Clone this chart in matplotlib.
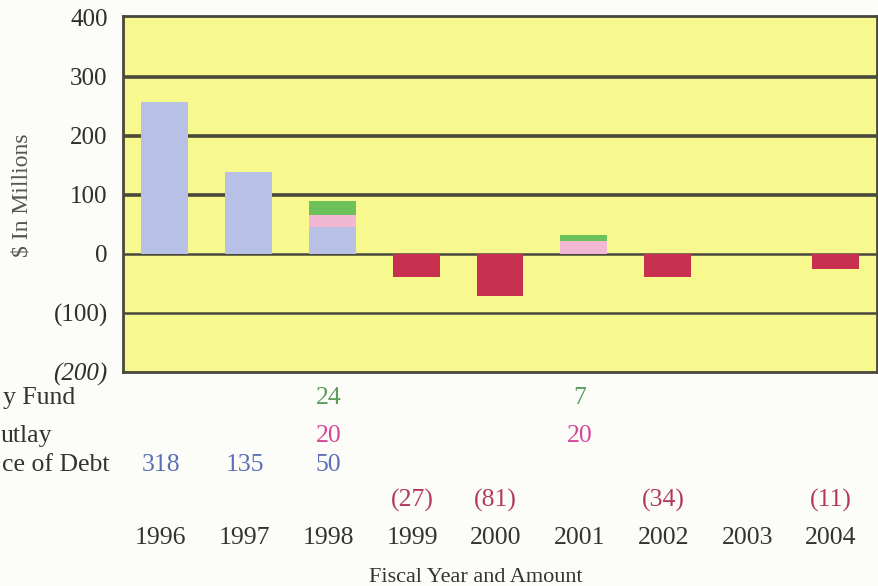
import matplotlib
matplotlib.use("Agg")
import matplotlib.pyplot as plt
import matplotlib.transforms as mtransforms

plt.rcParams['font.family'] = ['Liberation Serif', 'DejaVu Serif']

years = ['1996', '1997', '1998', '1999', '2000', '2001', '2002', '2003', '2004']

# bar heights as drawn in the chart ($ millions)
debt_bar = [258, 138, 46, 0, 0, 0, 0, 0, 0]
outlay_bar = [0, 0, 20, 0, 0, 22, 0, 0, 0]
fund_bar = [0, 0, 23, 0, 0, 10, 0, 0, 0]
deficit_bar = [0, 0, 0, -39, -72, 0, -39, 0, -25]

# amounts printed under the chart
fund_lbl = ['', '', '24', '', '', '7', '', '', '']
outlay_lbl = ['', '', '20', '', '', '20', '', '', '']
debt_lbl = ['318', '135', '50', '', '', '', '', '', '']
deficit_lbl = ['', '', '', '(27)', '(81)', '', '(34)', '', '(11)']

# row names, as much as is visible at the left edge of the page
row_names = ['y Fund', 'utlay', 'ce of Debt']

yticks = [400, 300, 200, 100, 0, -100, -200]
ytick_lbl = ['400', '300', '200', '100', '0', '(100)', '(200)']

c_bg = '#f7f88e'
c_debt = '#b9c0e6'
c_outlay = '#f1b7d3'
c_fund = '#6cc15a'
c_deficit = '#c8304f'
c_grid = '#48483c'

fig = plt.figure(figsize=(8.79, 5.86), dpi=100)
fig.patch.set_facecolor('#fcfcf9')
ax = fig.add_axes([123 / 879, 1 - 372 / 586, 754 / 879, 356 / 586])
ax.set_facecolor(c_bg)

x = list(range(len(years)))
w = 0.56
bot2 = [a + b for a, b in zip(debt_bar, outlay_bar)]
ax.bar(x, debt_bar, w, color=c_debt, zorder=3)
ax.bar(x, outlay_bar, w, bottom=debt_bar, color=c_outlay, zorder=3)
ax.bar(x, fund_bar, w, bottom=bot2, color=c_fund, zorder=3)
ax.bar(x, deficit_bar, w, color=c_deficit, zorder=3)

for v in [300, 200, 100]:
    ax.axhline(v, color=c_grid, lw=2.6, zorder=1)
for v in [0, -100]:
    ax.axhline(v, color=c_grid, lw=1.8, zorder=1)

ax.set_xlim(-0.5, 8.5)
ax.set_ylim(-197, 403)
ax.set_xticks([])
ax.set_yticks(yticks)
ax.set_yticklabels(ytick_lbl, fontsize=18, color='#2e2e2e')
ax.get_yticklabels()[-1].set_style('italic')
ax.tick_params(axis='y', length=0, pad=11)
for s in ax.spines.values():
    s.set_color(c_grid)
    s.set_linewidth(2)

fig.text(22 / 879, 1 - 195 / 586, '$ In Millions', rotation=90,
         ha='center', va='center', fontsize=17, color='#555555')

# amounts table under the plot
trans = mtransforms.blended_transform_factory(ax.transData, fig.transFigure)
rows = [
    (fund_lbl, '#5c9c5c', 398),
    (outlay_lbl, '#d6479a', 436),
    (debt_lbl, '#5b6fb8', 465),
    (deficit_lbl, '#b3395c', 500),
    (years, '#333333', 538),
]
for labels, col, ypx in rows:
    for i, t in enumerate(labels):
        if t:
            ax.text(i - 0.05, 1 - ypx / 586, t, transform=trans, ha='center',
                    va='center', fontsize=18.5, color=col)

for name, xr, ypx in zip(row_names, [75, 52, 110], [398, 436, 465]):
    fig.text(xr / 879, 1 - ypx / 586, name, ha='right', va='center',
             fontsize=18.5, color='#333333')

fig.text(476 / 879, 1 - 577 / 586, 'Fiscal Year and Amount', ha='center',
         va='center', fontsize=16, color='#333333')

fig.savefig('out.png', dpi=100, facecolor=fig.get_facecolor())
